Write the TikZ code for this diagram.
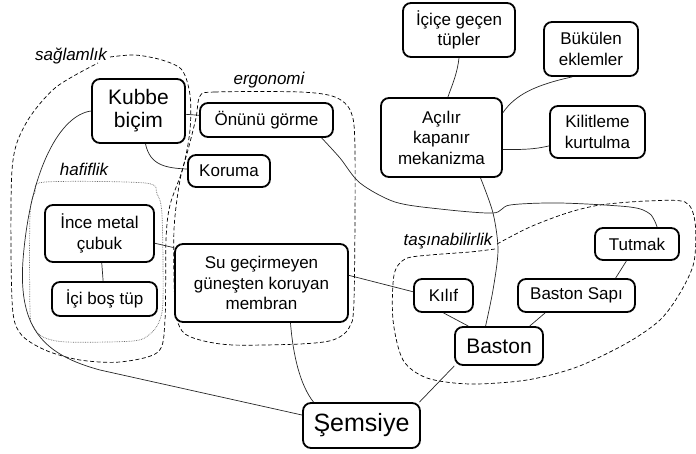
\documentclass[tikz,border=0pt]{standalone}
\usepackage{fontspec}
\setmainfont{Liberation Sans}

\begin{document}
\begin{tikzpicture}[x=1pt, y=-1pt,
    box/.style={draw, fill=white, line width=1.8pt, rounded corners=8pt, align=center, inner sep=0pt,
      font=\fontsize{17}{20.5}\selectfont},
    bigbox/.style={box, font=\fontsize{21}{23}\selectfont},
    link/.style={line width=0.7pt, black!85},
    group/.style={line width=0.7pt, dash pattern=on 4pt off 2.5pt},
    grouplabel/.style={anchor=base, inner sep=0pt, font=\fontsize{17}{20}\selectfont\itshape}]
  \useasboundingbox (0,0) rectangle (696,453);

  % Groups
  \draw[group] plot[smooth] coordinates {(110,57) (135,55) (162,60) (182,70) (190,95) (190,130) (183,168)
    (170,205) (166,240) (165,320) (158,352) (120,362) (80,360) (45,350) (20,333) (12,300) (12,170)
    (25,125) (55,88) (98,63)};
  \node[grouplabel] (saglam) at (71,60) {sağlamlık};

  \draw[group] plot[smooth cycle] coordinates {(200,96) (215,92) (300,92) (335,97) (351,112) (355,150)
    (354,300) (349,328) (333,340) (300,344) (233,345) (200,340) (182,331) (175,305) (174,230)
    (180,180) (188,150) (196,118)};
  \node[grouplabel] (ergo) at (269,84) {ergonomi};

  \draw[line width=0.7pt, densely dotted, black!60] plot[smooth cycle] coordinates {(45,182) (145,183)
    (157,194) (162,215) (163,300) (159,322) (150,334) (133,341) (67,342) (43,337) (33,326) (30,310)
    (30,215) (35,192)};
  \node[grouplabel] (hafif) at (84,175) {hafiflik};

  \draw[group] plot[smooth] coordinates {(497,244) (530,227) (567,213) (600,205) (647,201) (685,202)
    (695,222) (694,262) (680,293) (660,320) (627,343) (577,367) (527,380) (470,384) (427,378)
    (403,360) (393,320) (394,275) (405,259) (430,255) (470,252) (495,249)};
  \node[grouplabel] (tasin) at (448,245) {taşınabilirlik};

  % Boxes
  \node[bigbox, minimum width=93pt, minimum height=64pt] (kubbe) at (138.5,111) {Kubbe\\biçim};
  \node[box, minimum width=133pt, minimum height=34pt] (onunu) at (266.5,120) {Önünü görme};
  \node[box, minimum width=82pt, minimum height=32pt] (koruma) at (229,171) {Koruma};
  \node[box, minimum width=109pt, minimum height=57pt] (ince) at (99.5,233.5) {İnce metal\\çubuk};
  \node[box, minimum width=105pt, minimum height=34pt] (icibos) at (104.5,299) {İçi boş tüp};
  \node[box, minimum width=173pt, minimum height=78pt] (membran) at (261.5,283) {Su geçirmeyen\\güneşten koruyan\\membran};
  \node[box, minimum width=117pt, minimum height=45pt, font=\fontsize{25}{28}\selectfont] (semsiye) at (361.5,425.5) {Şemsiye};
  \node[bigbox, minimum width=88pt, minimum height=38pt] (baston) at (499,346) {Baston};
  \node[box, minimum width=59pt, minimum height=33pt] (kilif) at (443.5,295.5) {Kılıf};
  \node[box, minimum width=117pt, minimum height=33pt] (sapi) at (576.5,295.5) {Baston Sapı};
  \node[box, minimum width=84pt, minimum height=32pt] (tutmak) at (637,244) {Tutmak};
  \node[box, minimum width=121pt, minimum height=79pt] (acilir) at (441.5,137.5) {Açılır\\kapanır\\mekanizma};
  \node[box, minimum width=112pt, minimum height=54pt] (icice) at (459,30) {İçiçe geçen\\tüpler};
  \node[box, minimum width=94pt, minimum height=54pt] (bukulen) at (591,49) {Bükülen\\eklemler};
  \node[box, minimum width=95pt, minimum height=52pt] (kilit) at (597.5,132) {Kilitleme\\kurtulma};

  % Links
  \draw[link] (kubbe) -- (onunu);
  \draw[link] (kubbe) .. controls (150,165) and (165,168) .. (koruma);
  \draw[link] (kubbe.west) .. controls (60,115) and (30,170) .. (23,260)
    .. controls (18,330) and (45,355) .. (100,370) -- (semsiye.170);
  \draw[link] plot[smooth] coordinates {(onunu.-18) (340,158) (360,183) (395,202) (440,209) (493,213)
    (510,205) (560,203) (630,207) (650,214) (tutmak.40)};
  \draw[link] (ince) -- (icibos);
  \draw[link] (ince.-10) -- (membran.158);
  \draw[link] (membran.-54) .. controls (293,355) and (300,385) .. (semsiye.154);
  \draw[link] (membran.5) -- (kilif.173);
  \draw[link] (kilif.south) -- (baston.147);
  \draw[link] (sapi.-151) -- (baston.33);
  \draw[link] (sapi.24) -- (tutmak.-122);
  \draw[link] plot[smooth] coordinates {(acilir.-46) (493,213) (498,250) (493,290) (baston.124)};
  \draw[link] (baston.-156) -- (semsiye.22);
  \draw[link] (icice.south) .. controls (457,75) and (452,85) .. (acilir.81);
  \draw[link] (acilir.22) .. controls (515,95) and (535,85) .. (bukulen.-124);
  \draw[link] (acilir.-11) .. controls (530,150) and (540,148) .. (kilit.196);
\end{tikzpicture}
\end{document}
